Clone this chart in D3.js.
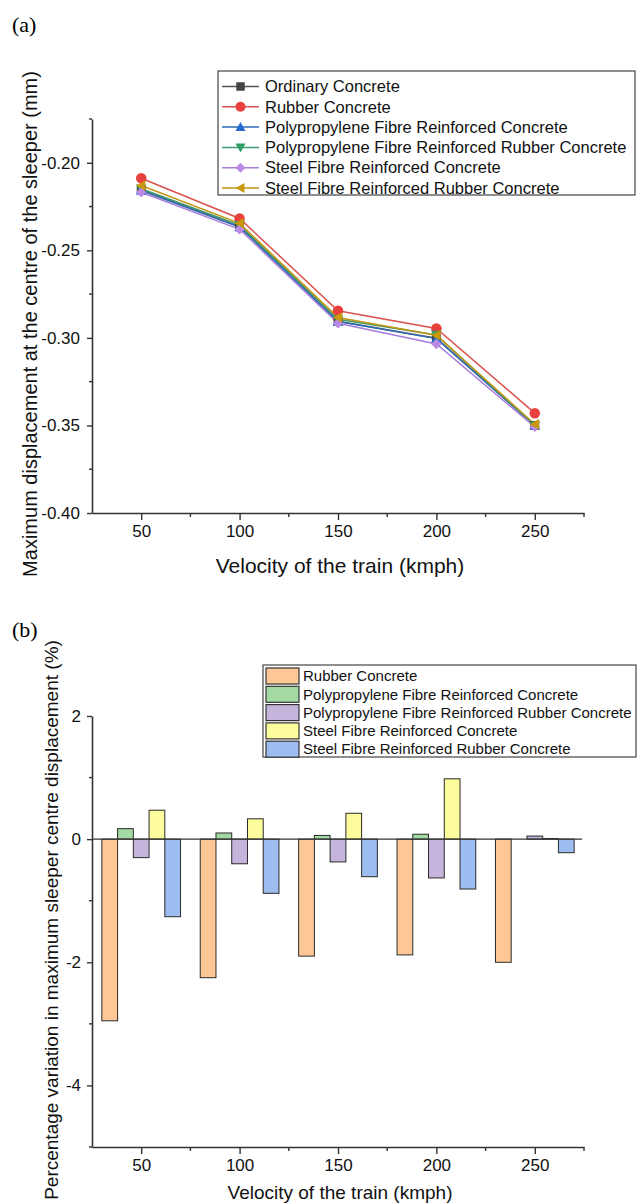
<!DOCTYPE html>
<html><head><meta charset="utf-8">
<script src="https://cdn.jsdelivr.net/npm/d3@7"></script>
<style>
body{margin:0;background:#fff;}
svg{display:block;font-family:"Liberation Sans",Arial,sans-serif;}
</style></head>
<body>
<svg id="chart" width="639" height="1204"></svg>
<script>
// ---------- data ----------
const velocities = [50, 100, 150, 200, 250];
const lineSeriesNames = [
  "Ordinary Concrete",
  "Rubber Concrete",
  "Polypropylene Fibre Reinforced Concrete",
  "Polypropylene Fibre Reinforced Rubber Concrete",
  "Steel Fibre Reinforced Concrete",
  "Steel Fibre Reinforced Rubber Concrete"
];
const ordinary   = [-0.2154, -0.2365, -0.2905, -0.3002, -0.3500];
const rubber     = [-0.2088, -0.2318, -0.2845, -0.2946, -0.3430];
const ppConc     = [-0.2158, -0.2367, -0.2907, -0.3004, -0.3500];
const ppRubber   = [-0.2148, -0.2356, -0.2894, -0.2983, -0.3502];
const steelConc  = [-0.2168, -0.2380, -0.2917, -0.3035, -0.3508];
const steelRub   = [-0.2130, -0.2346, -0.2884, -0.2985, -0.3493];
const yTicksA = [-0.40, -0.35, -0.30, -0.25, -0.20];

const barSeriesNames = [
  "Rubber Concrete",
  "Polypropylene Fibre Reinforced Concrete",
  "Polypropylene Fibre Reinforced Rubber Concrete",
  "Steel Fibre Reinforced Concrete",
  "Steel Fibre Reinforced Rubber Concrete"
];
const pctRubber    = [-2.95, -2.25, -1.90, -1.88, -2.00];
const pctPP        = [0.17, 0.10, 0.06, 0.08, 0.00];
const pctPPRubber  = [-0.30, -0.40, -0.37, -0.63, 0.05];
const pctSteel     = [0.47, 0.33, 0.42, 0.98, 0.01];
const pctSteelRub  = [-1.26, -0.88, -0.61, -0.81, -0.22];
const yTicksB = [-4, -2, 0, 2];

// ---------- styles ----------
const lineColors   = ["#555555", "#d9534f", "#2f6db5", "#3c9a72", "#a77ddc", "#c29512"];
const markerColors = ["#444444", "#e8403c", "#2468d0", "#2e9e64", "#b98be6", "#c9980c"];
const markerTypes  = ["square", "circle", "triUp", "triDown", "diamond", "triLeft"];
const barColors = ["#fdc895", "#a3d9a3", "#c5b5dc", "#fcfc9c", "#9dbcf0"];
const axisColor = "#333";
const font = '"Liberation Sans",Arial,sans-serif';
const tickFontSize = 17;

const svg = d3.select("#chart");

function marker(g, type, cx, cy, color, s) {
  let path;
  const r = s / 2;
  switch (type) {
    case "square": path = `M${cx-r*0.85},${cy-r*0.85}h${r*1.7}v${r*1.7}h${-r*1.7}Z`; break;
    case "circle": g.append("circle").attr("cx", cx).attr("cy", cy).attr("r", r).attr("fill", color); return;
    case "triUp": path = `M${cx},${cy-r}L${cx+r},${cy+r*0.8}L${cx-r},${cy+r*0.8}Z`; break;
    case "triDown": path = `M${cx},${cy+r}L${cx+r},${cy-r*0.8}L${cx-r},${cy-r*0.8}Z`; break;
    case "diamond": path = `M${cx},${cy-r}L${cx+r},${cy}L${cx},${cy+r}L${cx-r},${cy}Z`; break;
    case "triLeft": path = `M${cx-r},${cy}L${cx+r*0.8},${cy-r}L${cx+r*0.8},${cy+r}Z`; break;
  }
  g.append("path").attr("d", path).attr("fill", color);
}

function styleAxis(g) {
  g.attr("font-size", tickFontSize).attr("font-family", font);
  g.selectAll(".domain").attr("stroke", axisColor).attr("stroke-width", 1.6);
  g.selectAll(".tick line").attr("stroke", axisColor).attr("stroke-width", 1.4);
  g.selectAll(".tick text").attr("fill", "#111").attr("font-size", tickFontSize)
    .style("font-family", font).style("font-size", tickFontSize + "px");
}

// ---------- panel labels ----------
svg.append("text").attr("x", 12).attr("y", 32).text("(a)")
  .style("font-family", '"Liberation Serif","Times New Roman",serif').style("font-size", "22px");
svg.append("text").attr("x", 12).attr("y", 637).text("(b)")
  .style("font-family", '"Liberation Serif","Times New Roman",serif').style("font-size", "22px");

// ---------- chart (a) ----------
const xA = d3.scaleLinear().domain([25, 275]).range([92, 584]);
const yA = d3.scaleLinear().domain([-0.40, -0.175]).range([513, 119]);

const gxA = svg.append("g").attr("transform", `translate(0,${yA(-0.40)})`)
  .call(d3.axisBottom(xA).tickValues(velocities).tickSize(7).tickSizeOuter(0).tickPadding(5).tickFormat(d3.format("d")));
styleAxis(gxA);
gxA.append("g").selectAll("line").data([75, 125, 175, 225, 275]).join("line")
  .attr("x1", d => xA(d)).attr("x2", d => xA(d)).attr("y1", 0).attr("y2", 4)
  .attr("stroke", axisColor).attr("stroke-width", 1.4);

const gyA = svg.append("g").attr("transform", `translate(${xA(25)},0)`)
  .call(d3.axisLeft(yA).tickValues(yTicksA).tickSize(5).tickSizeOuter(0).tickPadding(7).tickFormat(d3.format(".2f")));
styleAxis(gyA);
gyA.selectAll(".tick text").text(d => d3.format(".2f")(d).replace("−", "-"));
gyA.append("g").selectAll("line").data([-0.375, -0.325, -0.275, -0.225, -0.175]).join("line")
  .attr("x1", 0).attr("x2", -3).attr("y1", d => yA(d)).attr("y2", d => yA(d))
  .attr("stroke", axisColor).attr("stroke-width", 1.4);

svg.append("text").attr("x", 340).attr("y", 573).attr("text-anchor", "middle")
  .style("font-family", font).style("font-size", "21px").attr("fill", "#111")
  .text("Velocity of the train (kmph)");
svg.append("text").attr("transform", "translate(37,324) rotate(-90)").attr("text-anchor", "middle")
  .style("font-family", font).style("font-size", "20px").attr("fill", "#111")
  .text("Maximum displacement at the centre of the sleeper (mm)");

const lineData = [ordinary, rubber, ppConc, ppRubber, steelConc, steelRub];
const lineGen = d3.line().x((d, i) => xA(velocities[i])).y(d => yA(d));
const plotA = svg.append("g");
lineData.forEach((vals, k) => {
  plotA.append("path").datum(vals).attr("d", lineGen)
    .attr("fill", "none").attr("stroke", lineColors[k]).attr("stroke-width", 1.5);
});
lineData.forEach((vals, k) => {
  vals.forEach((v, i) => marker(plotA, markerTypes[k], xA(velocities[i]), yA(v), markerColors[k], 10.5));
});

// legend (a)
const legA = svg.append("g");
legA.append("rect").attr("x", 218).attr("y", 71).attr("width", 417).attr("height", 124)
  .attr("fill", "#fff").attr("stroke", "#444").attr("stroke-width", 1.2);
lineSeriesNames.forEach((name, k) => {
  const cy = 86.5 + k * 20.3;
  legA.append("line").attr("x1", 222).attr("x2", 259).attr("y1", cy).attr("y2", cy)
    .attr("stroke", lineColors[k]).attr("stroke-width", 1.5);
  marker(legA, markerTypes[k], 240.5, cy, markerColors[k], 10);
  legA.append("text").attr("x", 265).attr("y", cy).attr("dy", "0.35em")
    .style("font-family", font).style("font-size", "16.5px").attr("fill", "#111").text(name);
});

// ---------- chart (b) ----------
const xB = d3.scaleLinear().domain([25, 275]).range([92, 584]);
const yB = d3.scaleLinear().domain([-5, 2]).range([1147, 716]);

const gxB = svg.append("g").attr("transform", `translate(0,${yB(-5)})`)
  .call(d3.axisBottom(xB).tickValues(velocities).tickSize(7).tickSizeOuter(0).tickPadding(5).tickFormat(d3.format("d")));
styleAxis(gxB);
gxB.append("g").selectAll("line").data([75, 125, 175, 225, 275]).join("line")
  .attr("x1", d => xB(d)).attr("x2", d => xB(d)).attr("y1", 0).attr("y2", 4)
  .attr("stroke", axisColor).attr("stroke-width", 1.4);

const gyB = svg.append("g").attr("transform", `translate(${xB(25)},0)`)
  .call(d3.axisLeft(yB).tickValues(yTicksB).tickSize(5).tickSizeOuter(0).tickPadding(6).tickFormat(d => String(d)));
styleAxis(gyB);
gyB.append("g").selectAll("line").data([1, -1, -3, -5]).join("line")
  .attr("x1", 0).attr("x2", -3).attr("y1", d => yB(d)).attr("y2", d => yB(d))
  .attr("stroke", axisColor).attr("stroke-width", 1.4);

svg.append("text").attr("x", 340).attr("y", 1199).attr("text-anchor", "middle")
  .style("font-family", font).style("font-size", "19px").attr("fill", "#111")
  .text("Velocity of the train (kmph)");
svg.append("text").attr("transform", "translate(58,920) rotate(-90)").attr("text-anchor", "middle")
  .style("font-family", font).style("font-size", "19px").attr("fill", "#111")
  .text("Percentage variation in maximum sleeper centre displacement (%)");

const barData = [pctRubber, pctPP, pctPPRubber, pctSteel, pctSteelRub];
const barW = 8.0; // kmph per bar
const plotB = svg.append("g");
barData.forEach((vals, k) => {
  plotB.selectAll(null).data(vals).join("rect")
    .attr("x", (d, i) => xB(velocities[i] + (k - 2.5) * barW))
    .attr("width", xB(barW) - xB(0))
    .attr("y", d => yB(Math.max(0, d)))
    .attr("height", d => Math.abs(yB(d) - yB(0)))
    .attr("fill", barColors[k]).attr("stroke", "#2a2a2a").attr("stroke-width", 1);
});
// zero line
plotB.append("line").attr("x1", xB(25)).attr("x2", xB(275) - 2).attr("y1", yB(0)).attr("y2", yB(0))
  .attr("stroke", axisColor).attr("stroke-width", 1.4);

// legend (b)
const legB = svg.append("g");
legB.append("rect").attr("x", 263).attr("y", 665).attr("width", 373).attr("height", 92)
  .attr("fill", "#fff").attr("stroke", "#444").attr("stroke-width", 1.2);
barSeriesNames.forEach((name, k) => {
  const cy = 676 + k * 18.3;
  legB.append("rect").attr("x", 266).attr("y", cy - 8).attr("width", 33).attr("height", 16)
    .attr("fill", barColors[k]).attr("stroke", "#333").attr("stroke-width", 1.2);
  legB.append("text").attr("x", 303).attr("y", cy).attr("dy", "0.35em")
    .style("font-family", font).style("font-size", "15px").attr("fill", "#111").text(name);
});
</script>
</body></html>
